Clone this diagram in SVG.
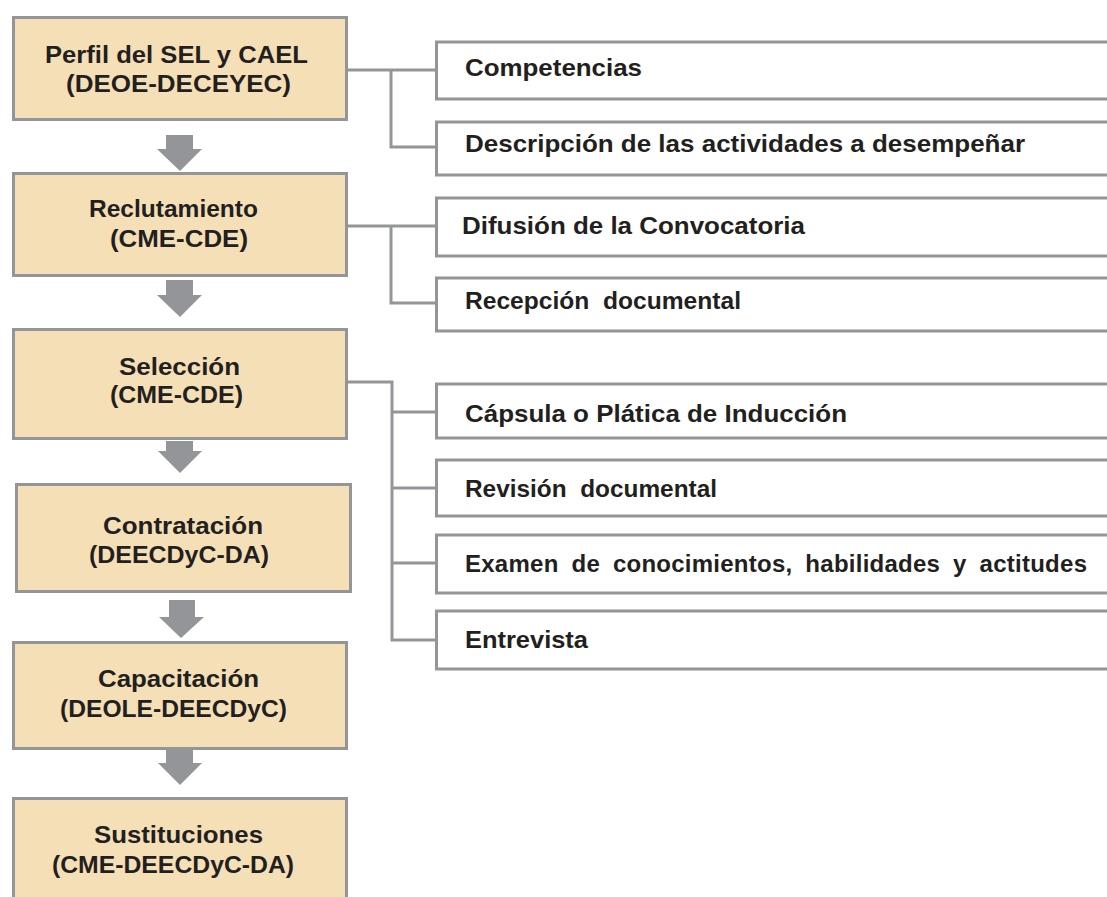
<svg xmlns="http://www.w3.org/2000/svg" width="1107" height="897" viewBox="0 0 1107 897">
<style>
.main{fill:#F5DFB7;stroke:#939598;stroke-width:3}
.sub{fill:#FFFFFF;stroke:#939598;stroke-width:3}
.t{font-family:"Liberation Sans",Arial,sans-serif;font-weight:bold;font-size:24px;fill:#231F20}
.c{text-anchor:middle}
.ln{fill:none;stroke:#939598;stroke-width:3}
.ar{fill:#939598}
.pre{white-space:pre}
</style>
<rect width="1107" height="897" fill="#FFFFFF"/>
<g id="connectors">
<path class="ln" d="M348 70H436M391 70V147H436"/>
<path class="ln" d="M348 226H436M391 226V303H436"/>
<path class="ln" d="M348 382H392V640H436M392 412H436M392 488H436M392 563H436"/>
<polygon class="ar" points="166,135 193,135 193,149 202,149 180,171 157,149 166,149"/>
<polygon class="ar" points="166,280 193,280 193,295 202,295 180,317 157,295 166,295"/>
<polygon class="ar" points="166,441 193,441 193,451 202,451 180,473 158,451 166,451"/>
<polygon class="ar" points="169,600 195,600 195,617 204,617 181,638 159,617 169,617"/>
<polygon class="ar" points="166,750 193,750 193,763 202,763 180,785 158,763 166,763"/>
</g>
<g id="n1"><rect class="main" x="13.5" y="17.5" width="333" height="102"/>
<text class="t" x="45" y="63" textLength="263" lengthAdjust="spacingAndGlyphs">Perfil del SEL y CAEL</text>
<text class="t" x="66" y="92" textLength="225" lengthAdjust="spacingAndGlyphs">(DEOE-DECEYEC)</text></g>
<g id="n2"><rect class="main" x="13.5" y="173.5" width="333" height="102"/>
<text class="t" x="89" y="217" textLength="169" lengthAdjust="spacingAndGlyphs">Reclutamiento</text>
<text class="t" x="110" y="247" textLength="138" lengthAdjust="spacingAndGlyphs">(CME-CDE)</text></g>
<g id="n3"><rect class="main" x="13.5" y="329.5" width="333" height="109"/>
<text class="t" x="119" y="375" textLength="121" lengthAdjust="spacingAndGlyphs">Selección</text>
<text class="t" x="110" y="403" textLength="133" lengthAdjust="spacingAndGlyphs">(CME-CDE)</text></g>
<g id="n4"><rect class="main" x="16.5" y="484.5" width="334" height="107"/>
<text class="t" x="103" y="534" textLength="160" lengthAdjust="spacingAndGlyphs">Contratación</text>
<text class="t" x="89" y="563" textLength="180" lengthAdjust="spacingAndGlyphs">(DEECDyC-DA)</text></g>
<g id="n5"><rect class="main" x="13.5" y="642.5" width="333" height="106"/>
<text class="t" x="98" y="687" textLength="161" lengthAdjust="spacingAndGlyphs">Capacitación</text>
<text class="t" x="60" y="717" textLength="227" lengthAdjust="spacingAndGlyphs">(DEOLE-DEECDyC)</text></g>
<g id="n6"><rect class="main" x="13.5" y="798.5" width="333" height="110"/>
<text class="t" x="94" y="843" textLength="169" lengthAdjust="spacingAndGlyphs">Sustituciones</text>
<text class="t" x="52" y="873" textLength="242" lengthAdjust="spacingAndGlyphs">(CME-DEECDyC-DA)</text></g>
<g id="r1"><rect class="sub" x="436.5" y="42" width="700" height="57"/>
<text class="t" x="465" y="76" font-size="23" textLength="177" lengthAdjust="spacingAndGlyphs">Competencias</text></g>
<g id="r2"><rect class="sub" x="436.5" y="122" width="700" height="53"/>
<text class="t" x="465" y="152" font-size="23" textLength="560" lengthAdjust="spacingAndGlyphs">Descripción de las actividades a desempeñar</text></g>
<g id="r3"><rect class="sub" x="436.5" y="198" width="700" height="58"/>
<text class="t" x="462" y="234" font-size="23" textLength="343" lengthAdjust="spacingAndGlyphs">Difusión de la Convocatoria</text></g>
<g id="r4"><rect class="sub" x="436.5" y="278" width="700" height="53"/>
<text class="t pre" x="465" y="309" font-size="23" textLength="276" lengthAdjust="spacingAndGlyphs">Recepción  documental</text></g>
<g id="r5"><rect class="sub" x="436.5" y="384" width="700" height="54"/>
<text class="t" x="465" y="422" font-size="23" textLength="382" lengthAdjust="spacingAndGlyphs">Cápsula o Plática de Inducción</text></g>
<g id="r6"><rect class="sub" x="436.5" y="460" width="700" height="56"/>
<text class="t pre" x="465" y="497" font-size="23" textLength="252" lengthAdjust="spacingAndGlyphs">Revisión  documental</text></g>
<g id="r7"><rect class="sub" x="436.5" y="535" width="700" height="58"/>
<text class="t" x="465" y="572" font-size="23" word-spacing="6" textLength="622" lengthAdjust="spacing">Examen de conocimientos, habilidades y actitudes</text></g>
<g id="r8"><rect class="sub" x="436.5" y="611" width="700" height="58"/>
<text class="t" x="465" y="648" font-size="23" textLength="123" lengthAdjust="spacingAndGlyphs">Entrevista</text></g>
</svg>
